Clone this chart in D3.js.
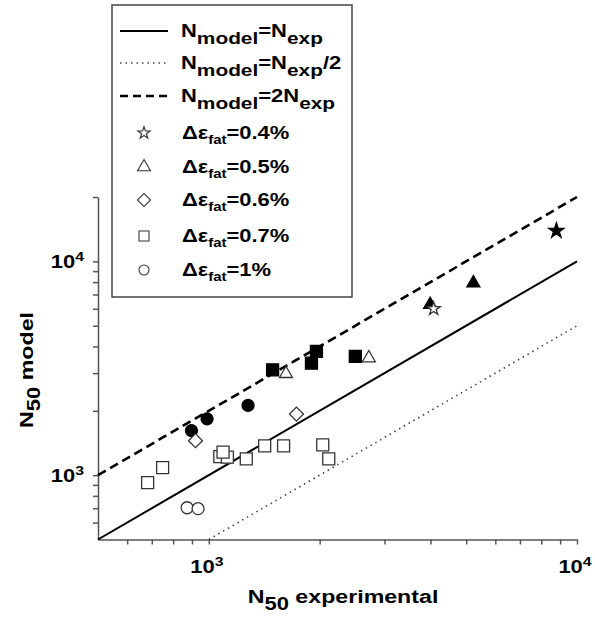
<!DOCTYPE html>
<html lang="en">
<head>
    <meta charset="UTF-8">
    <title>N50 model vs N50 experimental</title>
    <script src="https://cdn.jsdelivr.net/npm/d3@7"></script>
    <style>
        html, body {
            margin: 0;
            padding: 0;
            background: white;
        }

        svg text {
            font-family: "Liberation Sans", Arial, sans-serif;
            font-weight: bold;
            fill: #000;
        }
    </style>
</head>
<body>
<svg id="chart" width="595" height="619"></svg>
<script>
    // data: [N50 experimental, N50 model]
    let openStar = [[4080, 6000]];
    let filledStar = [[8790, 13900]];
    let openTriangle = [[1620, 2980], [2720, 3530]];
    let filledTriangle = [[3990, 6270], [5230, 7920]];
    let openDiamond = [[920, 1450], [1730, 1930]];
    let filledSquare = [[1490, 3110], [1900, 3340], [1960, 3790], [2500, 3590]];
    let openSquare = [[682, 922], [749, 1085], [1071, 1221], [1123, 1213], [1093, 1280],
        [1264, 1191], [1418, 1370], [1596, 1370], [2039, 1385], [2117, 1191]];
    let filledCircle = [[897, 1616], [989, 1834], [1278, 2120]];
    let openCircle = [[873, 704], [935, 697]];

    let xDomain = [500, 10000];
    let yDomain = [500, 20000];
    let xTicks = [600, 700, 800, 900, 1000, 2000, 3000, 4000, 5000, 6000, 7000, 8000, 9000, 10000];
    let yTicks = [600, 700, 800, 900, 1000, 2000, 3000, 4000, 5000, 6000, 7000, 8000, 9000, 10000, 20000];
    let xLabels = [[1000, "10", "3"], [10000, "10", "4"]];
    let yLabels = [[1000, "10", "3"], [10000, "10", "4"]];

    // reference lines: factor on N_exp, start and end of N_exp
    let refLines = [
        {name: "solid", factor: 1, from: 500, to: 10000},
        {name: "dotted", factor: 0.5, from: 1000, to: 10000},
        {name: "dashed", factor: 2, from: 500, to: 10000}
    ];
    let legendRows = [
        {kind: "line", style: "solid", parts: [["N"], ["model", "sub"], ["=N"], ["exp", "sub"]]},
        {kind: "line", style: "dotted", parts: [["N"], ["model", "sub"], ["=N"], ["exp", "sub"], ["/2"]]},
        {kind: "line", style: "dashed", parts: [["N"], ["model", "sub"], ["=2N"], ["exp", "sub"]]},
        {kind: "sym", sym: "star", parts: [["Δε"], ["fat", "sub2"], ["=0.4%"]]},
        {kind: "sym", sym: "triangle", parts: [["Δε"], ["fat", "sub2"], ["=0.5%"]]},
        {kind: "sym", sym: "diamond", parts: [["Δε"], ["fat", "sub2"], ["=0.6%"]]},
        {kind: "sym", sym: "square", parts: [["Δε"], ["fat", "sub2"], ["=0.7%"]]},
        {kind: "sym", sym: "circle", parts: [["Δε"], ["fat", "sub2"], ["=1%"]]}
    ];

    let svg = d3.select("#chart");
    let x = d3.scaleLog().domain(xDomain).range([98, 577]);
    let y = d3.scaleLog().domain(yDomain).range([539.5, 197]);

    let lineStyles = {
        solid: {stroke: "#000", width: 2, dash: null},
        dotted: {stroke: "#444", width: 1.6, dash: "1.5,4"},
        dashed: {stroke: "#000", width: 2.6, dash: "9,5"}
    };

    // wide bold text, built from parts with sub/superscripts
    function stext(g, tx, ty, parts, size, anchor, rot) {
        let t = g.append("text")
            .attr("transform", "translate(" + tx + "," + ty + ")" + (rot ? " rotate(" + rot + ")" : "") + " scale(1.22,1)")
            .attr("text-anchor", anchor)
            .style("font-size", size + "px");
        let shift = 0;
        parts.forEach(function (p) {
            let want = 0, fs = size;
            if (p[1] === "sub") { want = size * 0.38; fs = size * 0.95; }
            if (p[1] === "sub2") { want = size * 0.3; fs = size * 0.68; }
            if (p[1] === "sup") { want = -size * 0.4; fs = size * 0.72; }
            t.append("tspan")
                .attr("dy", want - shift)
                .style("font-size", fs + "px")
                .text(p[0]);
            shift = want;
        });
        return t;
    }

    function symbolPath(name, s) {
        if (name === "square") return d3.symbol(d3.symbolSquare, s * s)();
        if (name === "circle") return d3.symbol(d3.symbolCircle, Math.PI * s * s / 4)();
        if (name === "diamond") return d3.symbol(d3.symbolSquare, s * s / 2)();
        if (name === "triangle") return d3.symbol(d3.symbolTriangle, Math.sqrt(3) / 4 * s * s)();
        if (name === "star") return d3.symbol(d3.symbolStar, s * s * 0.32)();
    }

    // axes
    let xAxis = d3.axisBottom(x).tickValues(xTicks).tickFormat("").tickSize(5).tickSizeOuter(0);
    let yAxis = d3.axisLeft(y).tickValues(yTicks).tickFormat("").tickSize(5).tickSizeOuter(0);
    let gx = svg.append("g").attr("transform", "translate(0,539.5)").call(xAxis);
    let gy = svg.append("g").attr("transform", "translate(98,0)").call(yAxis);
    [gx, gy].forEach(function (g) {
        g.selectAll("path, line").attr("stroke", "#555").attr("stroke-width", 1.5);
    });

    xLabels.forEach(function (d) {
        stext(svg, x(d[0]) - 2, 573, [[d[1]], [d[2], "sup"]], 18, "middle");
    });
    yLabels.forEach(function (d) {
        stext(svg, 84, y(d[0]) + 7, [[d[1]], [d[2], "sup"]], 18, "end");
    });

    stext(svg, 343, 603, [["N"], ["50", "sub"], [" experimental"]], 19, "middle");
    stext(svg, 33, 370, [["N"], ["50", "sub"], [" model"]], 19, "middle", -90);

    // reference lines
    refLines.forEach(function (r) {
        let st = lineStyles[r.name];
        svg.append("line")
            .attr("x1", x(r.from)).attr("y1", y(r.from * r.factor))
            .attr("x2", x(r.to)).attr("y2", y(r.to * r.factor))
            .attr("stroke", st.stroke)
            .attr("stroke-width", st.width)
            .attr("stroke-dasharray", st.dash);
    });

    // markers: filled first, open ones on top
    let markerSets = [
        [filledStar, "star", 15, true],
        [filledTriangle, "triangle", 13, true],
        [filledSquare, "square", 12, true],
        [filledCircle, "circle", 12, true],
        [openStar, "star", 13, false],
        [openTriangle, "triangle", 13, false],
        [openDiamond, "diamond", 14, false],
        [openSquare, "square", 12, false],
        [openCircle, "circle", 12, false]
    ];
    markerSets.forEach(function (m) {
        svg.append("g").selectAll("path")
            .data(m[0])
            .enter()
            .append("path")
            .attr("d", symbolPath(m[1], m[2]))
            .attr("transform", function (d) {
                return "translate(" + x(d[0]) + "," + y(d[1]) + ")" + (m[1] === "diamond" ? " rotate(45)" : "");
            })
            .attr("fill", m[3] ? "#000" : "#fff")
            .attr("stroke", m[3] ? "#000" : "#333")
            .attr("stroke-width", 1.3);
    });

    // legend
    let lg = svg.append("g");
    lg.append("rect")
        .attr("x", 112).attr("y", 5)
        .attr("width", 240).attr("height", 292)
        .attr("fill", "#fff")
        .attr("stroke", "#444")
        .attr("stroke-width", 1.5);

    let rowY = [31, 63, 96, 133, 167, 200, 236, 270];
    let legendSize = {star: 12, triangle: 13, diamond: 13, square: 10, circle: 10};
    legendRows.forEach(function (r, i) {
        let cy = rowY[i];
        if (r.kind === "line") {
            let st = lineStyles[r.style];
            lg.append("line")
                .attr("x1", 120).attr("x2", 168)
                .attr("y1", cy).attr("y2", cy)
                .attr("stroke", st.stroke)
                .attr("stroke-width", st.width)
                .attr("stroke-dasharray", r.style === "dashed" ? "8,5" : st.dash);
            stext(lg, 181, cy + 6, r.parts, 18, "start");
        } else {
            lg.append("path")
                .attr("d", symbolPath(r.sym, legendSize[r.sym]))
                .attr("transform", "translate(144," + cy + ")" + (r.sym === "diamond" ? " rotate(45)" : ""))
                .attr("fill", "#fff")
                .attr("stroke", "#333")
                .attr("stroke-width", 1.1);
            stext(lg, 182, cy + 6, r.parts, 18, "start");
        }
    });
</script>
</body>
</html>
